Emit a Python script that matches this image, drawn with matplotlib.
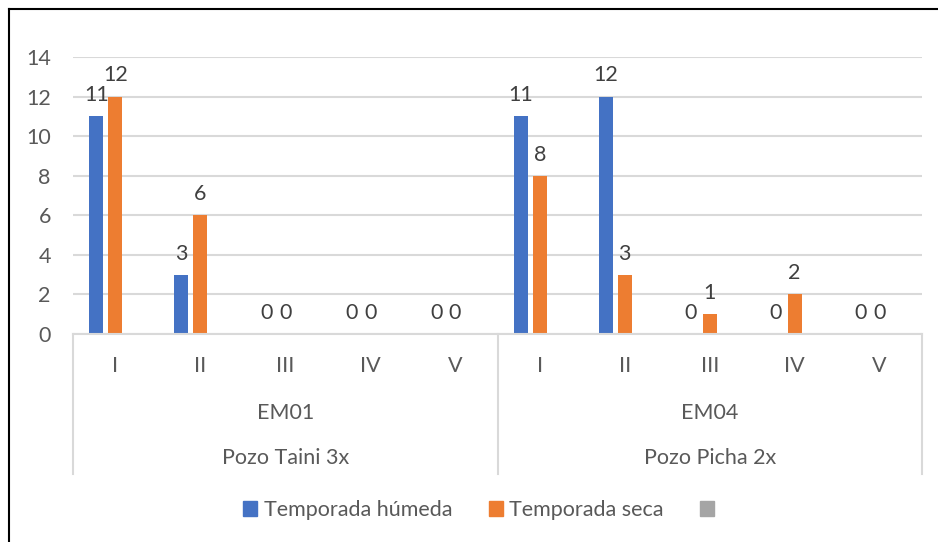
import numpy as np
import matplotlib.pyplot as plt
from matplotlib.patches import Patch
from matplotlib.lines import Line2D

plt.rcParams['font.family'] = ['Lato', 'DejaVu Sans']

estadios = ["I", "II", "III", "IV", "V"]
estaciones = ["EM01", "EM04"]
pozos = ["Pozo Taini 3x", "Pozo Picha 2x"]
humeda = [11, 3, 0, 0, 0, 11, 12, 0, 0, 0]
seca = [12, 6, 0, 0, 0, 8, 3, 1, 2, 0]
tercera = [0] * 10

c_txt = "#595959"
c_grid = "#D9D9D9"
fs = 15.5

fig = plt.figure(figsize=(9.38, 5.42), dpi=100)
ax = fig.add_axes([73/938, (542-334)/542, (922-73)/938, (334-57)/542])

x = np.arange(len(humeda))
w = 14/85
off = 19/85
b1 = ax.bar(x - off, humeda, w, color="#4472C4")
b2 = ax.bar(x, seca, w, color="#ED7D31")
ax.bar(x + off, tercera, w, color="#A5A5A5", linewidth=0)
ax.bar_label(b1, padding=8, fontsize=fs, color="#404040")
ax.bar_label(b2, padding=8, fontsize=fs, color="#404040")

ax.set_xlim(-0.5, 9.5)
ax.set_ylim(0, 14)
ax.set_yticks(range(0, 15, 2))
ax.yaxis.grid(True, color=c_grid, lw=1.5)
ax.set_axisbelow(True)
for s in ["top", "right", "left"]:
    ax.spines[s].set_visible(False)
ax.spines["bottom"].set_color(c_grid)
ax.spines["bottom"].set_linewidth(1.5)
ax.tick_params(axis="y", length=0, pad=16, labelsize=fs, labelcolor=c_txt)
ax.set_xticks([])

# multi-level category axis
etiquetas = estadios * 2
for i, t in enumerate(etiquetas):
    ax.annotate(t, xy=(i, 0), xycoords=("data", "axes fraction"), xytext=(0, -23),
                textcoords="offset points", ha="center", va="center", fontsize=fs, color=c_txt)
for j in range(2):
    xc = j * 5 + 2
    ax.annotate(estaciones[j], xy=(xc, 0), xycoords=("data", "axes fraction"), xytext=(0, -57),
                textcoords="offset points", ha="center", va="center", fontsize=fs, color=c_txt)
    ax.annotate(pozos[j], xy=(xc, 0), xycoords=("data", "axes fraction"), xytext=(0, -89),
                textcoords="offset points", ha="center", va="center", fontsize=fs, color=c_txt)
tr = ax.get_xaxis_transform()
for xs in [-0.5, 4.5, 9.5]:
    ax.add_line(Line2D([xs, xs], [0, -140/277], transform=tr, color=c_grid, lw=1.5, clip_on=False))

handles = [Patch(color="#4472C4"), Patch(color="#ED7D31"), Patch(color="#A5A5A5")]
fig.legend(handles, ["Temporada húmeda", "Temporada seca", ""], loc="center",
           bbox_to_anchor=(482/938, 1 - 510/542), ncol=3, frameon=False, fontsize=fs,
           labelcolor=c_txt, handlelength=0.65, handleheight=0.65, handletextpad=0.3,
           columnspacing=1.7)

# chart border (left and top only visible)
fig.add_artist(Line2D([9/938, 9/938], [0, 1 - 9/542], color="black", lw=1.5))
fig.add_artist(Line2D([9/938, 1], [1 - 9/542, 1 - 9/542], color="black", lw=1.5))

fig.savefig("out.png", dpi=100)
